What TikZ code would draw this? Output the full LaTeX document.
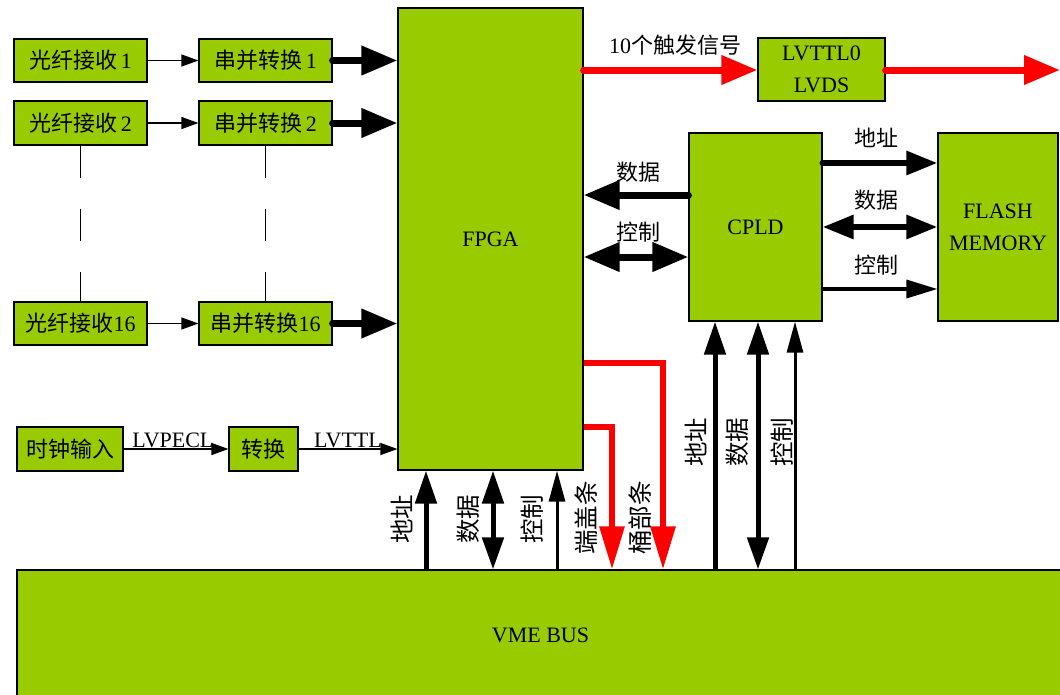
\documentclass[tikz,border=0pt]{standalone}
\usepackage{fontspec}
\setmainfont{Liberation Serif}
\newfontfamily\cjk{Noto Sans CJK SC}
\usetikzlibrary{arrows.meta}
\definecolor{boxgreen}{RGB}{153,204,0}
\definecolor{sigred}{RGB}{255,0,0}
\newcommand\zhtext[1]{{\cjk #1}}
\begin{document}
\begin{tikzpicture}[x=1pt,y=-1pt,
  box/.style={draw=black, line width=1.2pt, fill=boxgreen, inner sep=0pt,
    font=\fontsize{22}{32}\selectfont, align=center},
  lbl/.style={inner sep=0pt, font=\fontsize{22}{26}\selectfont},
  vlbl/.style={inner sep=0pt, font=\fontsize{24.5}{28}\selectfont, rotate=90},
  thinarr/.style={line width=1.3pt, -{Triangle[length=17pt,width=12pt]}},
  fatarr/.style={line width=7pt, line cap=round, -{Triangle[length=36pt,width=28pt]}},
  fatbi/.style={line width=7pt, {Triangle[length=36pt,width=28pt]}-{Triangle[length=36pt,width=28pt]}},
  midarr/.style={line width=6pt, line cap=round, -{Triangle[length=31pt,width=23pt]}},
  midbi/.style={line width=6pt, {Triangle[length=31pt,width=23pt]}-{Triangle[length=31pt,width=23pt]}},
  lowarr/.style={line width=3.5pt, line cap=round, -{Triangle[length=31pt,width=18pt]}},
  varr/.style={line width=5pt, -{Triangle[length=33pt,width=21pt]}},
  vbi/.style={line width=5pt, {Triangle[length=32pt,width=21pt]}-{Triangle[length=33pt,width=21pt]}},
  vthin/.style={line width=3pt, -{Triangle[length=31pt,width=16pt]}},
  redarr/.style={draw=sigred, line width=7pt, line cap=round, -{Triangle[length=36pt,width=28pt]}},
  redbus/.style={draw=sigred, line width=6pt, line join=miter, -{Triangle[length=43pt,width=24pt]}},
  dashv/.style={line width=1.2pt, dash pattern=on 32pt off 31pt}
]
\useasboundingbox (0,0) rectangle (1060,694);
\clip (0,0) rectangle (1060,694);

% boxes
\node[box, minimum width=133pt, minimum height=43pt] (rx1) at (80.5,60.5) {\zhtext{光纤接收}\,1};
\node[box, minimum width=133pt, minimum height=43pt] (sp1) at (265.5,60.5) {\zhtext{串并转换}\,1};
\node[box, minimum width=133pt, minimum height=44pt] (rx2) at (80.5,123) {\zhtext{光纤接收}\,2};
\node[box, minimum width=133pt, minimum height=44pt] (sp2) at (265.5,123) {\zhtext{串并转换}\,2};
\node[box, minimum width=133pt, minimum height=43pt] (rx16) at (80.5,323.5) {\zhtext{光纤接收}16};
\node[box, minimum width=133pt, minimum height=43pt] (sp16) at (265.5,323.5) {\zhtext{串并转换}16};
\node[box, minimum width=106pt, minimum height=44pt] (clk) at (70,449) {\zhtext{时钟输入}};
\node[box, minimum width=69pt, minimum height=44pt] (cv) at (263.5,449) {\zhtext{转换}};
\node[box, minimum width=185pt, minimum height=462pt] (fpga) at (490.5,239) {FPGA};
\node[box, minimum width=127pt, minimum height=63pt] (lvds) at (821.5,69.5) {LVTTL0\\LVDS};
\node[box, minimum width=133pt, minimum height=188pt] (cpld) at (755.5,227) {CPLD};
\node[box, minimum width=120pt, minimum height=188pt] (flash) at (998,227) {FLASH\\MEMORY};
\node[box, minimum width=1047pt, minimum height=130pt] (vme) at (540.5,635) {VME BUS};

% helper coordinates
\coordinate (ytrig) at (0,70);
\coordinate (outR) at (1060,70);
\coordinate (yd1) at (0,195);
\coordinate (yc1) at (0,257);
\coordinate (ya2) at (0,163);
\coordinate (yd2) at (0,227);
\coordinate (yc2) at (0,289);
\coordinate (yr1) at (0,363);
\coordinate (yr2) at (0,427);
\coordinate (xr1) at (663,0);
\coordinate (xr2) at (612,0);
\coordinate (xa1) at (426,0);
\coordinate (xd1) at (493,0);
\coordinate (xc1) at (557,0);
\coordinate (xa2) at (715,0);
\coordinate (xd2) at (758,0);
\coordinate (xc2) at (795,0);

% fibre chain
\draw[thinarr] (rx1) -- (sp1);
\draw[thinarr] (rx2) -- (sp2);
\draw[thinarr] (rx16) -- (sp16);
\draw[fatarr] (sp1.east) -- (sp1.east -| fpga.west);
\draw[fatarr] (sp2.east) -- (sp2.east -| fpga.west);
\draw[fatarr] (sp16.east) -- (sp16.east -| fpga.west);
\draw[dashv] (rx2.south) -- (rx16.north);
\draw[dashv] (sp2.south) -- (sp16.north);

% clock
\draw[thinarr] (clk.east) -- node[lbl, above=1pt, pos=0.47] (lpecl) {LVPECL} (cv.west);
\draw[thinarr] (cv.east) -- node[lbl, above=1pt] (lttl) {LVTTL} (cv.east -| fpga.west);

% trigger
\draw[redarr] (fpga.east |- ytrig) -- (lvds.west |- ytrig);
\node[lbl] (trig) at (675,45) {10\zhtext{个触发信号}};
\draw[redarr] (lvds.east |- ytrig) -- (outR);

% FPGA - CPLD
\draw[fatarr] (cpld.west |- yd1) -- (fpga.east |- yd1);
\node[lbl] (ld1) at (638,172) {\zhtext{数据}};
\draw[fatbi] (fpga.east |- yc1) -- (cpld.west |- yc1);
\node[lbl] (lc1) at (638,232) {\zhtext{控制}};

% CPLD - FLASH
\draw[midarr] (cpld.east |- ya2) -- (flash.west |- ya2);
\node[lbl] (la2) at (876,138) {\zhtext{地址}};
\draw[midbi] (cpld.east |- yd2) -- (flash.west |- yd2);
\node[lbl] (ld2) at (876,200) {\zhtext{数据}};
\draw[lowarr] (cpld.east |- yc2) -- (flash.west |- yc2);
\node[lbl] (lc2) at (876,265) {\zhtext{控制}};

% VME - FPGA
\draw[varr] (vme.north -| xa1) -- (fpga.south -| xa1);
\draw[vbi] (vme.north -| xd1) -- (fpga.south -| xd1);
\draw[vthin] (vme.north -| xc1) -- (fpga.south -| xc1);
\node[vlbl] (va1) at (402,519) {\zhtext{地址}};
\node[vlbl] (vd1) at (468,519) {\zhtext{数据}};
\node[vlbl] (vc1) at (532,519) {\zhtext{控制}};

% red bus lines
\draw[redbus] (fpga.east |- yr1) -| (vme.north -| xr1);
\draw[redbus] (fpga.east |- yr2) -| (vme.north -| xr2);
\node[vlbl] (ve1) at (586,518) {\zhtext{端盖条}};
\node[vlbl] (ve2) at (640,518) {\zhtext{桶部条}};

% VME - CPLD
\draw[varr] (vme.north -| xa2) -- (cpld.south -| xa2);
\draw[vbi] (vme.north -| xd2) -- (cpld.south -| xd2);
\draw[vthin] (vme.north -| xc2) -- (cpld.south -| xc2);
\node[vlbl] (va2) at (696,442) {\zhtext{地址}};
\node[vlbl] (vd2) at (737,442) {\zhtext{数据}};
\node[vlbl] (vc2) at (782,442) {\zhtext{控制}};
\end{tikzpicture}
\end{document}
